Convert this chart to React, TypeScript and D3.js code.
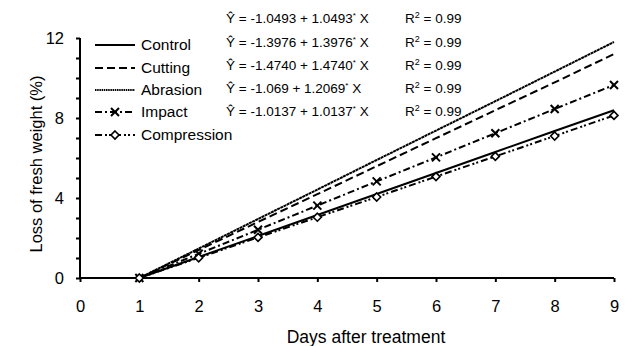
import React, { useRef, useEffect } from 'react';
import * as d3 from 'd3';

const days = [1, 2, 3, 4, 5, 6, 7, 8, 9];
const control = [0, 1.05, 2.1, 3.15, 4.2, 5.25, 6.3, 7.35, 8.39];
const cutting = [0, 1.4, 2.8, 4.19, 5.59, 6.99, 8.39, 9.78, 11.2];
const abrasion = [0, 1.47, 2.95, 4.42, 5.9, 7.37, 8.84, 10.32, 11.8];
const impact = [0, 1.21, 2.41, 3.62, 4.83, 6.03, 7.24, 8.45, 9.65];
const compression = [0, 1.01, 2.03, 3.04, 4.05, 5.07, 6.08, 7.1, 8.13];

const seriesNames = ['Control', 'Cutting', 'Abrasion', 'Impact', 'Compression'];
const equations = [
  ['-1.0493', '1.0493'],
  ['-1.3976', '1.3976'],
  ['-1.4740', '1.4740'],
  ['-1.069', '1.2069'],
  ['-1.0137', '1.0137'],
];
const rSquared = ['0.99', '0.99', '0.99', '0.99', '0.99'];
const xTicks = [0, 1, 2, 3, 4, 5, 6, 7, 8, 9];
const yTicks = [0, 4, 8, 12];

export default function App() {
  const svgRef = useRef<SVGSVGElement>(null);

  useEffect(() => {
    const svg = d3.select(svgRef.current);
    svg.selectAll('*').remove();
    const font = 'Liberation Sans, Arial, sans-serif';

    const x = d3.scaleLinear().domain([0, 9]).range([80, 614]);
    const y = d3.scaleLinear().domain([0, 12]).range([278, 38]);

    const styles = [
      { dash: null, marker: null },
      { dash: '8,4', marker: null },
      { dash: '3,0.5', marker: null },
      { dash: '7,3,2,3', marker: 'x' },
      { dash: '7,3,2,2,2,3', marker: 'diamond' },
    ];
    const allSeries = [control, cutting, abrasion, impact, compression];

    // axes
    const xAxis = d3.axisBottom(x).tickValues(xTicks).tickSize(4).tickFormat(d3.format('d'));
    const gx = svg.append('g').attr('transform', `translate(0,${y(0)})`).call(xAxis);
    gx.select('.domain').attr('stroke-width', 2).attr('d', `M${x(0)},0H${x(9)}`);
    gx.selectAll('.tick line').attr('stroke-width', 2);
    gx.selectAll('.tick text')
      .attr('font-family', font).attr('font-size', 16.5)
      .attr('y', 33.5).attr('dy', 0).attr('fill', '#000');

    const yAxis = d3.axisLeft(y).tickValues(d3.range(0, 13, 1)).tickSize(4)
      .tickFormat((d: any) => (yTicks.includes(d) ? String(d) : ''));
    const gy = svg.append('g').attr('transform', `translate(${x(0)},0)`).call(yAxis);
    gy.select('.domain').attr('stroke-width', 2).attr('d', `M0,${y(12)}V${y(0)}`);
    gy.selectAll('.tick line').attr('stroke-width', 2);
    gy.selectAll('.tick text')
      .attr('font-family', font).attr('font-size', 16.5).attr('x', -16).attr('fill', '#000');

    // lines
    const line = d3.line<number>().x((d, i) => x(days[i])).y(d => y(d));
    allSeries.forEach((vals, k) => {
      svg.append('path')
        .attr('d', line(vals))
        .attr('fill', 'none')
        .attr('stroke', '#000')
        .attr('stroke-width', 2)
        .attr('stroke-dasharray', styles[k].dash);
    });

    const drawMarker = (g: any, type: string | null, cx: number, cy: number) => {
      if (type === 'x') {
        g.append('path')
          .attr('d', `M${cx - 4},${cy - 4}L${cx + 4},${cy + 4}M${cx - 4},${cy + 4}L${cx + 4},${cy - 4}`)
          .attr('stroke', '#000').attr('stroke-width', 2);
      } else if (type === 'diamond') {
        g.append('path')
          .attr('d', `M${cx},${cy - 4}L${cx + 4},${cy}L${cx},${cy + 4}L${cx - 4},${cy}Z`)
          .attr('stroke', '#000').attr('stroke-width', 1.6).attr('fill', '#fff');
      }
    };

    allSeries.forEach((vals, k) => {
      if (!styles[k].marker) return;
      vals.forEach((v, i) => drawMarker(svg, styles[k].marker, x(days[i]), y(v)));
    });

    // legend
    const legendY = [45, 68, 90, 112, 135];
    seriesNames.forEach((name, k) => {
      svg.append('line')
        .attr('x1', 95).attr('x2', 135).attr('y1', legendY[k]).attr('y2', legendY[k])
        .attr('stroke', '#000').attr('stroke-width', 2)
        .attr('stroke-dasharray', k === 2 ? '1.5,0.7' : styles[k].dash);
      drawMarker(svg, styles[k].marker, 115, legendY[k]);
      svg.append('text')
        .attr('x', 141).attr('y', legendY[k]).attr('dy', '0.35em')
        .attr('font-family', font).attr('font-size', 15.5)
        .text(name);
    });

    // equations
    const eqY = [18, 42, 65, 88, 111];
    equations.forEach((eq, k) => {
      const t = svg.append('text')
        .attr('x', 226).attr('y', eqY[k] + 5)
        .attr('font-family', font).attr('font-size', 13.5);
      t.append('tspan').text(`Ŷ = ${eq[0]} + ${eq[1]}`);
      t.append('tspan').attr('dy', -5).attr('font-size', 8).text('*');
      t.append('tspan').attr('dy', 5).text(' X');

      const r = svg.append('text')
        .attr('x', 405).attr('y', eqY[k] + 5)
        .attr('font-family', font).attr('font-size', 13.5);
      r.append('tspan').text('R');
      r.append('tspan').attr('dy', -5).attr('font-size', 9).text('2');
      r.append('tspan').attr('dy', 5).text(` = ${rSquared[k]}`);
    });

    // axis titles
    svg.append('text')
      .attr('transform', `translate(42,164) rotate(-90)`)
      .attr('text-anchor', 'middle')
      .attr('font-family', font).attr('font-size', 16.5)
      .text('Loss of fresh weight (%)');
    svg.append('text')
      .attr('x', 366).attr('y', 343)
      .attr('text-anchor', 'middle')
      .attr('font-family', font).attr('font-size', 17.5)
      .text('Days after treatment');
  }, []);

  return (
    <div style={{ position: 'absolute', left: 0, top: 0 }}>
      <svg ref={svgRef} width={625} height={346} style={{ display: 'block', background: '#fff' }}></svg>
    </div>
  );
}
